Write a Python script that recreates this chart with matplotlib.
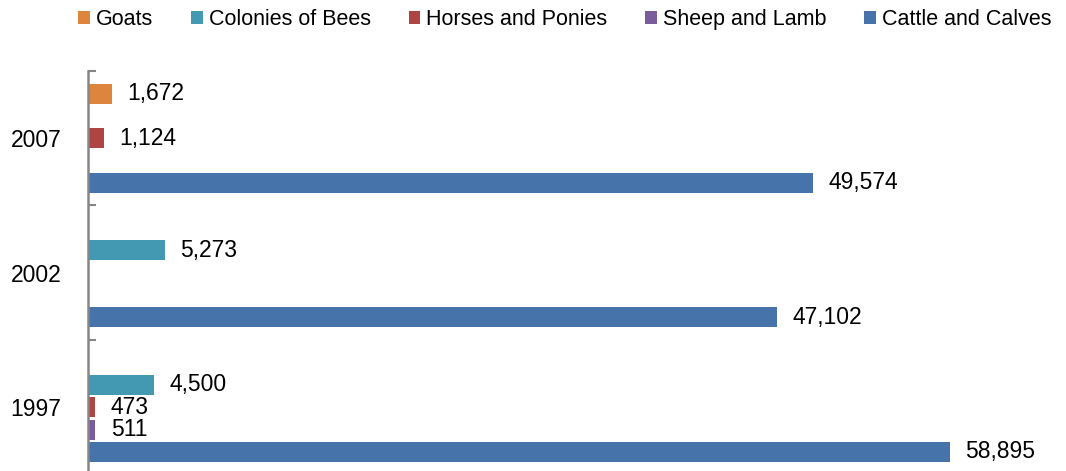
import matplotlib.pyplot as plt
import numpy as np

plt.rcParams['font.family'] = ['Liberation Sans', 'DejaVu Sans']

years = ["1997", "2002", "2007"]
series = ["Goats", "Colonies of Bees", "Horses and Ponies", "Sheep and Lamb", "Cattle and Calves"]
goats = [None, None, 1672]
bees = [4500, 5273, None]
horses = [473, None, 1124]
sheep = [511, None, None]
cattle = [58895, 47102, 49574]
values = [goats, bees, horses, sheep, cattle]
colors = ["#DE853D", "#4399B2", "#AE4542", "#7A5C9C", "#4674AA"]

fig = plt.figure(figsize=(10.66, 4.71), dpi=100)
ax = fig.add_axes([0.0825, -0.0074, 0.8237, 0.8567])

slot = 0.166
for j, (name, vals, c) in enumerate(zip(series, values, colors)):
    ys = [i + (2 - j) * slot for i, v in enumerate(vals) if v is not None]
    xs = [v for v in vals if v is not None]
    bars = ax.barh(ys, xs, height=slot * 0.9, color=c, label=name)
    ax.bar_label(bars, labels=[f"{v:,}" for v in xs], padding=11, fontsize=16.5)

ax.set_xlim(0, 60000)
ax.set_ylim(-0.5, 2.5)
ax.set_xticks([])
ax.set_yticks([-0.5, 0.5, 1.5, 2.5])
ax.set_yticklabels([])
ax.set_yticks(range(len(years)), minor=True)
ax.set_yticklabels(years, minor=True, fontsize=16.5)
ax.tick_params(axis='y', which='major', direction='in', length=5.5, color='#868686', width=1.5)
ax.tick_params(axis='y', which='minor', length=0, pad=19)
for s in ['top', 'right', 'bottom']:
    ax.spines[s].set_visible(False)
ax.spines['left'].set_color('#868686')
ax.spines['left'].set_linewidth(1.8)

fig.legend(loc='center', bbox_to_anchor=(0.53, 0.958), ncol=5, frameon=False,
           fontsize=15.5, handlelength=0.55, handleheight=0.55, handletextpad=0.28,
           columnspacing=1.75)

fig.savefig("out.png", dpi=100)
